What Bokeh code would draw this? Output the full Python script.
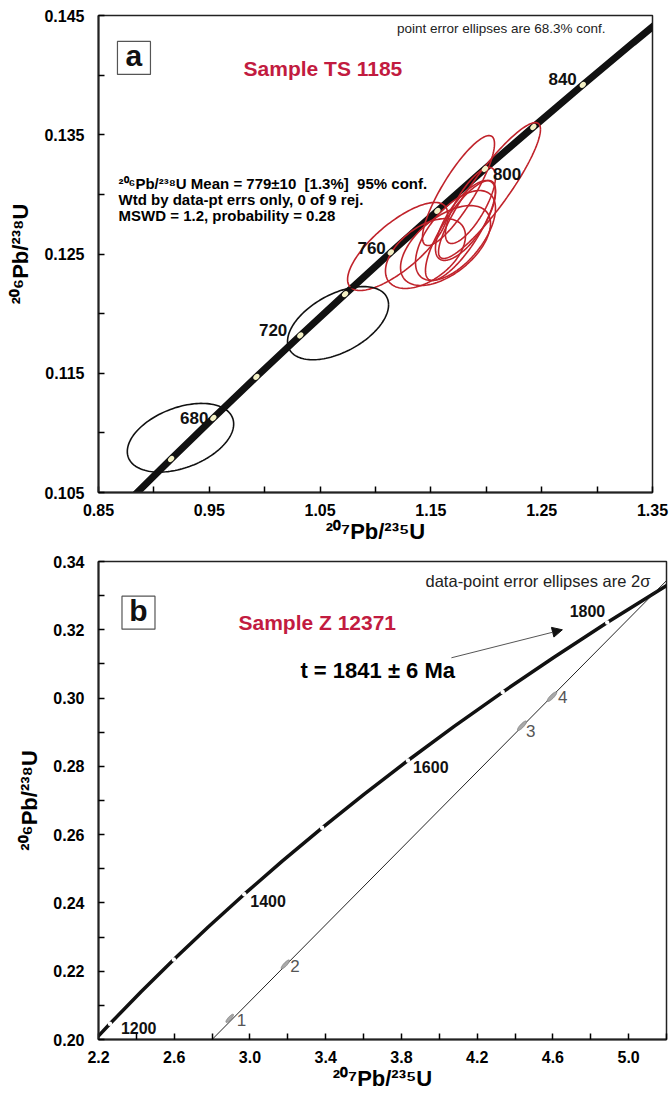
import numpy as np
from bokeh.plotting import figure
from bokeh.layouts import column
from bokeh.models import (FixedTicker, PrintfTickFormatter, Label, Arrow, NormalHead, Range1d)
from bokeh.embed import file_html
from bokeh.resources import INLINE
from bokeh.core.properties import value

# ---------------- data : panel a (Sample TS 1185) ----------------
conc_a_age = [640, 660, 680, 700, 720, 740, 760, 780, 800, 820, 840, 860, 880]
conc_a_x = [0.87818, 0.91554, 0.95365, 0.99251, 1.03214, 1.07257, 1.11380,
            1.15585, 1.19873, 1.24247, 1.28708, 1.33257, 1.37897]
conc_a_y = [0.10438, 0.10781, 0.11125, 0.11470, 0.11817, 0.12164, 0.12513,
            0.12862, 0.13213, 0.13565, 0.13918, 0.14272, 0.14627]
marker_a_ages = [660, 680, 700, 720, 740, 760, 780, 800, 820, 840]
label_a_ages = [680, 720, 760, 800, 840]

# red (accepted) data-point ellipses: centre, half-extent x, half-extent y, correlation
red_x = [1.2029, 1.1749, 1.1199, 1.1722, 1.1632, 1.1812, 1.1857, 1.1451, 1.1767]
red_y = [0.13032, 0.13032, 0.12563, 0.12655, 0.12571, 0.12781, 0.12907, 0.12504, 0.12697]
red_ex = [0.0460, 0.0325, 0.0451, 0.0361, 0.0406, 0.0271, 0.0226, 0.0361, 0.0316]
red_ey = [0.00570, 0.00461, 0.00369, 0.00377, 0.00335, 0.00335, 0.00319, 0.00293, 0.00419]
red_rho = [0.90, 0.85, 0.75, 0.60, 0.55, 0.70, 0.75, 0.50, 0.80]

# black data-point ellipses
blk_x = [0.9240, 1.0662]
blk_y = [0.10959, 0.11920]
blk_ex = [0.0480, 0.0456]
blk_ey = [0.00288, 0.00307]
blk_rho = [0.40, 0.50]

xticks_a = [0.85, 0.95, 1.05, 1.15, 1.25, 1.35]
xminor_a = [0.90, 1.00, 1.10, 1.20, 1.30]
yticks_a = [0.105, 0.115, 0.125, 0.135, 0.145]
yminor_a = [0.110, 0.120, 0.130, 0.140]

# ---------------- data : panel b (Sample Z 12371) ----------------
conc_b_age = [1150, 1200, 1250, 1300, 1350, 1400, 1450, 1500, 1550, 1600,
              1650, 1700, 1750, 1800, 1850, 1900]
conc_b_x = [2.10365, 2.26031, 2.42487, 2.59774, 2.77933, 2.97010, 3.17049, 3.38099,
            3.60208, 3.83441, 4.07843, 4.33478, 4.60404, 4.88694, 5.18404, 5.49619]
conc_b_y = [0.19530, 0.20460, 0.21398, 0.22343, 0.23296, 0.24256, 0.25224, 0.26199,
            0.27181, 0.28172, 0.29170, 0.30175, 0.31189, 0.32211, 0.33240, 0.34277]
marker_b_ages = [1200, 1300, 1400, 1500, 1600, 1700, 1800]
label_b_ages = [1200, 1400, 1600, 1800]

pts_b_x = [2.893, 3.187, 4.437, 4.595]
pts_b_y = [0.2062, 0.2220, 0.2919, 0.3004]
pts_b_ex = [0.020, 0.022, 0.024, 0.025]
pts_b_ey = [0.00120, 0.00130, 0.00140, 0.00140]
pts_b_rho = [0.85, 0.85, 0.85, 0.85]
pts_b_name = ["1", "2", "3", "4"]

discordia_x = [2.80, 5.20]
discordia_y = [0.2000, 0.3344]

xticks_b = [2.2, 2.6, 3.0, 3.4, 3.8, 4.2, 4.6, 5.0]
xminor_b = [2.4, 2.8, 3.2, 3.6, 4.0, 4.4, 4.8, 5.2]
yticks_b = [0.20, 0.22, 0.24, 0.26, 0.28, 0.30, 0.32, 0.34]
yminor_b = [0.21, 0.23, 0.25, 0.27, 0.29, 0.31, 0.33]

# ---------------- styling ----------------
FONT = "Liberation Sans"
RED_TXT = "#c21b40"
RED_ELL = "#c0232b"
XLAB = "\u00b2\u2070\u2077Pb/\u00b2\u00b3\u2075U"
YLAB = "\u00b2\u2070\u2076Pb/\u00b2\u00b3\u2078U"


def ellipse_outline(cx, cy, ex, ey, rho, n=140):
    t = np.linspace(0, 2 * np.pi, n)
    xs = cx + ex * np.cos(t)
    ys = cy + ey * (rho * np.cos(t) + np.sqrt(1 - rho ** 2) * np.sin(t))
    return list(xs), list(ys)


def style_axes(p, xt, xm, yt, ym, xfmt, yfmt):
    p.xaxis.ticker = FixedTicker(ticks=xt, minor_ticks=xm)
    p.yaxis.ticker = FixedTicker(ticks=yt, minor_ticks=ym)
    p.xaxis.formatter = PrintfTickFormatter(format=xfmt)
    p.yaxis.formatter = PrintfTickFormatter(format=yfmt)
    for ax in (p.xaxis, p.yaxis):
        ax.major_tick_in = 6
        ax.major_tick_out = 0
        ax.minor_tick_in = 6
        ax.minor_tick_out = 0
        ax.major_tick_line_color = "black"
        ax.minor_tick_line_color = "black"
        ax.major_tick_line_width = 1.5
        ax.minor_tick_line_width = 1.5
        ax.axis_line_width = 2
        ax.axis_line_color = "#222222"
        ax.major_label_text_font = FONT
        ax.major_label_text_font_style = "bold"
        ax.major_label_text_font_size = "16px"
        ax.major_label_text_color = "black"
        ax.axis_label_text_font = FONT
        ax.axis_label_text_font_style = "bold"
        ax.axis_label_text_font_size = "22px"
        ax.axis_label_text_color = "black"
    p.xaxis.major_label_standoff = 11
    p.xaxis.axis_label_standoff = 0
    p.yaxis.major_label_standoff = 14
    p.yaxis.axis_label_standoff = 8
    p.xgrid.visible = False
    p.ygrid.visible = False
    p.outline_line_color = "#222222"
    p.outline_line_width = 1.5
    p.background_fill_color = "white"
    p.border_fill_color = "white"


def add_label(p, x, y, text, size, bold=True, color="black", align="left"):
    p.add_layout(Label(x=x, y=y, text=text, text_font=FONT, text_font_size=size,
                       text_font_style="bold" if bold else "normal", text_color=color,
                       text_align=align, text_baseline="middle"))


def boxed_letter(p, x, y, letter):
    p.rect(x=[x], y=[y], width=33, height=33, width_units="screen", height_units="screen",
           fill_color="white", line_color="#555555", line_width=1.2)
    p.text(x=[x], y=[y], text=[letter], text_font=value(FONT), text_font_style="bold",
           text_font_size="30px", text_align="center", text_baseline="middle",
           text_color="#111111", y_offset=-2)


# ================= panel a =================
pa = figure(frame_width=554, frame_height=477, x_range=Range1d(0.85, 1.35),
            y_range=Range1d(0.105, 0.145),
            output_backend="svg", toolbar_location=None,
            min_border_left=98, min_border_right=17, min_border_top=15, min_border_bottom=53)
style_axes(pa, xticks_a, xminor_a, yticks_a, yminor_a, "%.2f", "%.3f")
pa.xaxis.axis_label = XLAB
pa.yaxis.axis_label = YLAB

pa.line(conc_a_x, conc_a_y, line_color="#111111", line_width=7)

rx, ry = [], []
for i in range(len(red_x)):
    xs, ys = ellipse_outline(red_x[i], red_y[i], red_ex[i], red_ey[i], red_rho[i])
    rx.append(xs); ry.append(ys)
pa.multi_line(rx, ry, line_color=RED_ELL, line_width=1.6)

bx, by = [], []
for i in range(len(blk_x)):
    xs, ys = ellipse_outline(blk_x[i], blk_y[i], blk_ex[i], blk_ey[i], blk_rho[i])
    bx.append(xs); by.append(ys)
pa.multi_line(bx, by, line_color="#111111", line_width=1.6)

mka = [i for i, a in enumerate(conc_a_age) if a in marker_a_ages]
pa.ellipse(x=[conc_a_x[i] for i in mka], y=[conc_a_y[i] for i in mka], width=7, height=5,
           width_units="screen", height_units="screen", angle=0.75,
           fill_color="#f4f1c6", line_color=None)

lab_a_off = {680: ("right", -5, 0), 720: ("right", -13, -5), 760: ("right", -5, -4),
             800: ("left", 8, 5), 840: ("right", -6, -6)}
for age in label_a_ages:
    i = conc_a_age.index(age)
    al, dx, dy = lab_a_off[age]
    pa.text(x=[conc_a_x[i]], y=[conc_a_y[i]], text=[str(age)], text_font=value(FONT),
            text_font_style="bold", text_font_size="17px", text_align=al,
            text_baseline="middle", x_offset=dx, y_offset=dy, text_color="#111111")

boxed_letter(pa, 0.8820, 0.14144, "a")
add_label(pa, 0.9809, 0.14056, "Sample TS 1185", "21px", color=RED_TXT)
add_label(pa, 1.3076, 0.14391, "point error ellipses are 68.3% conf.", "13.5px",
          bold=False, color="#222222", align="right")
add_label(pa, 0.8681, 0.13091,
          "\u00b2\u2070\u2076Pb/\u00b2\u00b3\u2078U Mean = 779\u00b110 \u00a0[1.3%] \u00a095% conf.",
          "15px")
add_label(pa, 0.8681, 0.12957, "Wtd by data-pt errs only, 0 of 9 rej.", "15px")
add_label(pa, 0.8681, 0.12823, "MSWD = 1.2, probability = 0.28", "15px")

# ================= panel b =================
pb = figure(frame_width=568, frame_height=478, x_range=Range1d(2.2, 5.2),
            y_range=Range1d(0.20, 0.34),
            output_backend="svg", toolbar_location=None,
            min_border_left=98, min_border_right=3, min_border_top=15, min_border_bottom=53)
style_axes(pb, xticks_b, xminor_b, yticks_b, yminor_b, "%.1f", "%.2f")
pb.xaxis.axis_label = XLAB
pb.yaxis.axis_label = YLAB

pb.line(conc_b_x, conc_b_y, line_color="#111111", line_width=3.5)
mkb = [i for i, a in enumerate(conc_b_age) if a in marker_b_ages]
pb.scatter(x=[conc_b_x[i] for i in mkb], y=[conc_b_y[i] for i in mkb], marker="circle",
           size=4.5, fill_color="white", line_color=None)
pb.line(discordia_x, discordia_y, line_color="#222222", line_width=1)

gx, gy = [], []
for i in range(len(pts_b_x)):
    xs, ys = ellipse_outline(pts_b_x[i], pts_b_y[i], pts_b_ex[i], pts_b_ey[i], pts_b_rho[i])
    gx.append(xs); gy.append(ys)
pb.patches(gx, gy, fill_color="#a9a9a9", line_color="#8a8a8a", line_width=1)

pt_off = [(7, 2), (5, 2), (4, 5), (6, 0)]
for i, name in enumerate(pts_b_name):
    pb.text(x=[pts_b_x[i]], y=[pts_b_y[i]], text=[name], text_font=value(FONT),
            text_font_size="17px", text_align="left", text_baseline="middle",
            x_offset=pt_off[i][0], y_offset=pt_off[i][1], text_color="#555555")

lab_b_off = {1200: ("left", 11, 4), 1400: ("left", 6, 7), 1600: ("left", 5, 7),
             1800: ("right", -2, -12)}
for age in label_b_ages:
    i = conc_b_age.index(age)
    al, dx, dy = lab_b_off[age]
    pb.text(x=[conc_b_x[i]], y=[conc_b_y[i]], text=[str(age)], text_font=value(FONT),
            text_font_style="bold", text_font_size="16px", text_align=al,
            text_baseline="middle", x_offset=dx, y_offset=dy, text_color="#111111")

boxed_letter(pb, 2.4112, 0.32500, "b")
add_label(pb, 2.9392, 0.32207, "Sample Z 12371", "21px", color=RED_TXT)
add_label(pb, 3.2665, 0.30803, "t = 1841 \u00b1 6 Ma", "22px")
add_label(pb, 5.1145, 0.33436, "data-point error ellipses are 2\u03c3", "16.5px",
          bold=False, color="#222222", align="right")
pb.add_layout(Arrow(end=NormalHead(size=10, fill_color="#111111", line_color="#111111"),
                    x_start=4.064, y_start=0.3118, x_end=4.650, y_end=0.3200,
                    line_color="#555555", line_width=1))

layout = column(pa, pb, spacing=0)
open("out.html", "w").write(file_html(layout, INLINE))
